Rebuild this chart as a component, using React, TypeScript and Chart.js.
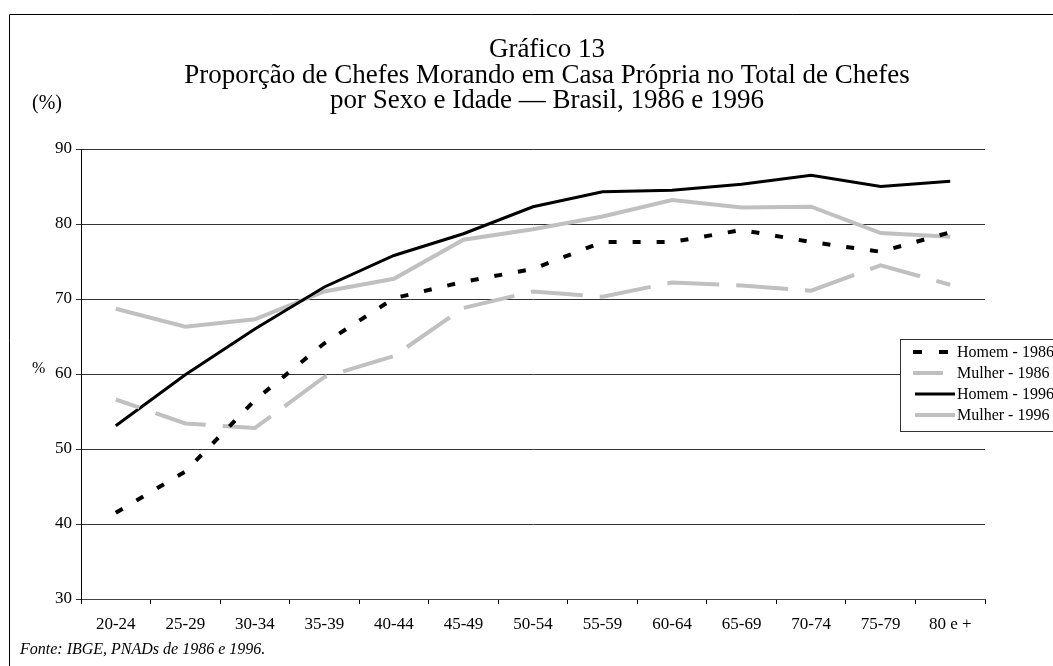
import { useEffect, useRef } from 'react';
import { Chart, registerables } from 'chart.js';

Chart.register(...registerables);

const categories = ['20-24', '25-29', '30-34', '35-39', '40-44', '45-49', '50-54', '55-59', '60-64', '65-69', '70-74', '75-79', '80 e +'];
const homem1986 = [41.5, 47.0, 56.5, 64.1, 70.1, 72.3, 74.0, 77.6, 77.6, 79.2, 77.6, 76.3, 78.9];
const mulher1986 = [56.6, 53.4, 52.8, 59.6, 62.4, 68.8, 71.0, 70.3, 72.2, 71.8, 71.1, 74.5, 71.9];
const homem1996 = [53.1, 59.9, 66.0, 71.6, 75.8, 78.7, 82.3, 84.3, 84.5, 85.3, 86.5, 85.0, 85.7];
const mulher1996 = [68.7, 66.3, 67.3, 71.0, 72.7, 77.9, 79.3, 81.0, 83.2, 82.2, 82.3, 78.8, 78.3];
const seriesLabels = ['Homem - 1986', 'Mulher - 1986', 'Homem - 1996', 'Mulher - 1996'];
const titleLines = ['Gráfico 13', 'Proporção de Chefes Morando em Casa Própria no Total de Chefes', 'por Sexo e Idade — Brasil, 1986 e 1996'];
const sourceText = 'Fonte: IBGE, PNADs de 1986 e 1996.';
const yMin = 30;
const yMax = 90;
const yStep = 10;

const FONT = "'Liberation Serif', 'Times New Roman', Times, serif";

const legendSamples = [
  { x0: 913, x1: 948, dash: [9, 17] },
  { x0: 913, x1: 943, dash: [] },
  { x0: 915, x1: 955, dash: [] },
  { x0: 915, x1: 955, dash: [] },
];

const decor = {
  id: 'decor',
  afterDraw(chart: any) {
    const ctx = chart.ctx as CanvasRenderingContext2D;
    ctx.save();
    // outer frame
    ctx.strokeStyle = '#000';
    ctx.lineWidth = 1;
    ctx.setLineDash([]);
    ctx.beginPath();
    ctx.moveTo(9.5, 700);
    ctx.lineTo(9.5, 14.5);
    ctx.lineTo(1100, 14.5);
    ctx.stroke();

    // titles
    ctx.fillStyle = '#000';
    ctx.font = `27px ${FONT}`;
    ctx.textAlign = 'center';
    ctx.textBaseline = 'alphabetic';
    titleLines.forEach((t, i) => ctx.fillText(t, 547, 57 + i * 25.5));

    // (%)
    ctx.font = `20px ${FONT}`;
    ctx.textAlign = 'left';
    ctx.fillText('(%)', 32, 109);

    // % axis title
    ctx.font = `16px ${FONT}`;
    ctx.textBaseline = 'middle';
    ctx.fillText('%', 32, 369);

    // source
    ctx.font = `italic 16px ${FONT}`;
    ctx.textBaseline = 'middle';
    ctx.fillText(sourceText, 20, 650);

    // legend
    ctx.fillStyle = '#fff';
    ctx.fillRect(900.5, 339.5, 200, 92);
    ctx.strokeStyle = '#333';
    ctx.lineWidth = 1;
    ctx.strokeRect(900.5, 339.5, 200, 92);
    const rows = [352, 373, 394, 415];
    chart.data.datasets.forEach((ds: any, i: number) => {
      const y = rows[i];
      const s = legendSamples[i];
      ctx.strokeStyle = ds.borderColor;
      ctx.lineWidth = ds.borderWidth;
      ctx.setLineDash(s.dash);
      ctx.beginPath();
      ctx.moveTo(s.x0, y);
      ctx.lineTo(s.x1, y);
      ctx.stroke();
      ctx.setLineDash([]);
      ctx.fillStyle = '#000';
      ctx.font = `16px ${FONT}`;
      ctx.textAlign = 'left';
      ctx.textBaseline = 'middle';
      ctx.fillText(ds.label, 957, y + 1);
    });
    ctx.restore();
  },
};

export default function App() {
  const ref = useRef<HTMLCanvasElement>(null);
  useEffect(() => {
    const chart = new Chart(ref.current as HTMLCanvasElement, {
      type: 'line',
      data: {
        labels: categories,
        datasets: [
          { label: seriesLabels[0], data: homem1986, borderColor: '#000000', borderWidth: 4, borderDash: [8, 16], fill: false },
          { label: seriesLabels[1], data: mulher1986, borderColor: '#c0c0c0', borderWidth: 4, borderDash: [52, 17], borderDashOffset: 27, fill: false },
          { label: seriesLabels[2], data: homem1996, borderColor: '#000000', borderWidth: 3, fill: false },
          { label: seriesLabels[3], data: mulher1996, borderColor: '#c0c0c0', borderWidth: 4, fill: false },
        ],
      },
      options: {
        responsive: false,
        animation: false,
        layout: { padding: { left: 0, right: 68, top: 149, bottom: 0 } },
        plugins: { legend: { display: false }, title: { display: false }, tooltip: { enabled: false } },
        elements: { point: { radius: 0 }, line: { tension: 0, borderCapStyle: 'butt', borderJoinStyle: 'miter' } },
        scales: {
          x: {
            offset: true,
            grid: { display: true, drawOnChartArea: false, drawTicks: true, tickLength: 5, offset: true, color: '#000' },
            border: { display: true, color: '#444', width: 1 },
            ticks: { font: { family: FONT, size: 17 }, color: '#000', padding: 10, maxRotation: 0, autoSkip: false },
            afterFit: (s: any) => { s.height = 67; },
          },
          y: {
            min: yMin,
            max: yMax,
            ticks: { stepSize: yStep, font: { family: FONT, size: 17 }, color: '#000', padding: 4 },
            grid: { color: '#333', tickLength: 5, drawTicks: true },
            border: { display: true, color: '#000', width: 1 },
            afterFit: (s: any) => { s.width = 81; },
          },
        },
      },
      plugins: [decor],
    } as any);
    return () => chart.destroy();
  }, []);
  return (
    <div style={{ position: 'fixed', left: 0, top: 0, width: 1053, height: 666, background: '#fff', overflow: 'hidden' }}>
      <canvas ref={ref} width={1053} height={666} style={{ display: 'block', width: 1053, height: 666 }} />
    </div>
  );
}
